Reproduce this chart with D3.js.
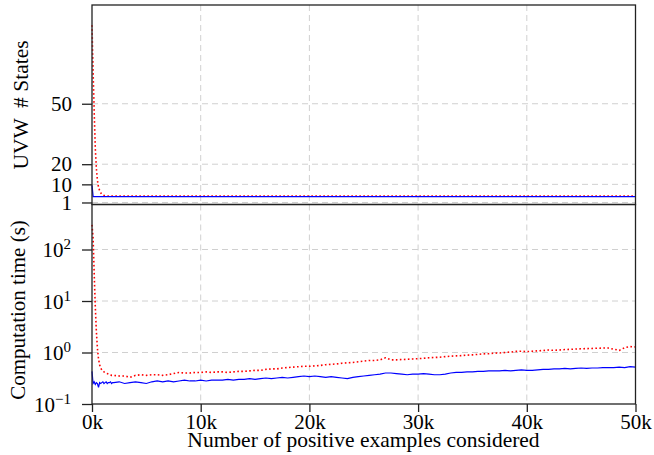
<!DOCTYPE html>
<html>
<head>
<meta charset="utf-8">
<script src="https://cdn.jsdelivr.net/npm/d3@7"></script>
<style>
body { margin: 0; background: #fff; }
text { font-family: "Liberation Serif", "Times New Roman", serif; fill: #000; }
</style>
</head>
<body>
<div id="chart"></div>
<script>

// sample points (number of positive examples) for the first 2k
var headX = [0,100,200,300,400,500,600,700,800,900,1000,1100,1200,1300,1400,1500,1600,1700,1800,1900];
// after 2k the curves are read every 500 examples
var tailX = d3.range(2000, 50001, 500);

// top panel: UVW # states (flat after 2k, so only the end point is kept)
var stateX = headX.concat([2000, 50000]);
var statesRed  = [89,66,46,28,18,12,8.5,7,5.8,5.1,4.7,4.5,4.4,4.3,4.25,4.2,4.2,4.2,4.2,4.2,4.2,4.2];
var statesBlue = [9.5,3.9,3.9,3.9,3.9,3.9,3.9,3.9,3.9,3.9,3.9,3.9,3.9,3.9,3.9,3.9,3.9,3.9,3.9,3.9,3.9,3.9];

// bottom panel: computation time (s)
var timeHeadRed  = [300,170,35,8,2.6,1.2,0.75,0.58,0.5,0.46,0.44,0.42,0.41,0.40,0.39,0.38,0.37,0.37,0.36,0.36];
var timeHeadBlue = [0.43,0.25,0.27,0.24,0.26,0.25,0.21,0.26,0.25,0.26,0.27,0.25,0.26,0.27,0.25,0.26,0.26,0.27,0.25,0.26];
var timeTailRed = [
  0.36,0.35,0.35,0.33,0.36,0.37,0.36,0.37,0.37,0.36,
  0.37,0.39,0.41,0.40,0.40,0.41,0.41,0.42,0.41,0.42,
  0.42,0.41,0.42,0.43,0.43,0.44,0.45,0.45,0.47,0.48,
  0.48,0.50,0.51,0.52,0.53,0.54,0.54,0.55,0.56,0.58,
  0.59,0.60,0.62,0.63,0.64,0.66,0.68,0.70,0.70,0.72,
  0.79,0.72,0.72,0.73,0.74,0.75,0.76,0.77,0.79,0.80,
  0.81,0.83,0.85,0.86,0.87,0.89,0.90,0.92,0.94,0.95,
  0.97,0.98,1.00,1.02,1.05,1.06,1.04,1.06,1.08,1.09,
  1.12,1.10,1.12,1.14,1.15,1.17,1.18,1.19,1.20,1.21,
  1.22,1.22,1.16,1.10,1.24,1.30,1.28];
var timeTailBlue = [
  0.26,0.27,0.25,0.26,0.27,0.26,0.25,0.27,0.28,0.27,
  0.28,0.27,0.28,0.29,0.28,0.28,0.29,0.28,0.29,0.29,
  0.29,0.30,0.29,0.30,0.30,0.31,0.30,0.31,0.32,0.31,
  0.32,0.33,0.32,0.33,0.34,0.35,0.34,0.35,0.34,0.33,
  0.34,0.33,0.32,0.31,0.33,0.34,0.35,0.36,0.37,0.38,
  0.40,0.40,0.39,0.38,0.37,0.38,0.38,0.39,0.38,0.37,
  0.37,0.38,0.40,0.41,0.41,0.42,0.42,0.43,0.43,0.44,
  0.44,0.44,0.45,0.44,0.45,0.46,0.45,0.45,0.46,0.47,
  0.47,0.48,0.48,0.49,0.48,0.49,0.50,0.49,0.50,0.50,
  0.51,0.51,0.51,0.52,0.51,0.53,0.52];

var xTicks = [0,10000,20000,30000,40000,50000];
var stateTicks = [1,10,20,50];
var timeTicks = [0.1,1,10,100];

// set the dimensions and margins of the graph
var margin = {top: 5, right: 18.5, bottom: 51, left: 92},
    width = 654 - margin.left - margin.right,
    height = 455 - margin.top - margin.bottom,
    panelH = height / 2;

var x = d3.scaleLinear().domain([0, 50000]).range([0, width]);
var yTop = d3.scaleLinear().domain([0, 99]).range([panelH, 0]);
var yBot = d3.scaleLog().domain([0.1, Math.pow(10, 2.874)]).range([height, panelH]);

var svg = d3.select("#chart").append("svg")
    .attr("width", 654)
    .attr("height", 455)
  .append("g")
    .attr("transform", "translate(" + margin.left + "," + margin.top + ")");

var gridColor = "#d0d0d0";

// grid lines
function vGrid(y0, y1) {
  svg.append("g").selectAll("line")
      .data(xTicks.slice(1, -1))
      .enter().append("line")
      .attr("x1", function(d) { return x(d); })
      .attr("x2", function(d) { return x(d); })
      .attr("y1", y0).attr("y2", y1)
      .style("stroke", gridColor).style("stroke-dasharray", "6,4");
}
function hGrid(vals, scale) {
  svg.append("g").selectAll("line")
      .data(vals)
      .enter().append("line")
      .attr("x1", 0).attr("x2", width)
      .attr("y1", function(d) { return scale(d); })
      .attr("y2", function(d) { return scale(d); })
      .style("stroke", gridColor).style("stroke-dasharray", "6,4");
}
vGrid(0, panelH);
vGrid(panelH, height);
hGrid(stateTicks, yTop);
hGrid(timeTicks.slice(1), yBot);

// lines
var stateLine = function(vals) {
  return d3.line()
    .x(function(d, i) { return x(stateX[i]); })
    .y(function(d) { return yTop(d); })(vals);
};
var timeX = headX.concat(tailX);
var timeLine = function(vals) {
  return d3.line()
    .x(function(d, i) { return x(timeX[i]); })
    .y(function(d) { return yBot(d); })(vals);
};

svg.append("path").attr("d", stateLine(statesRed))
    .style("fill", "none").style("stroke", "#ff0000")
    .style("stroke-width", 1.6).style("stroke-dasharray", "1.6,2.4");
svg.append("path").attr("d", stateLine(statesBlue))
    .style("fill", "none").style("stroke", "#0000ff").style("stroke-width", 1.3);

svg.append("path").attr("d", timeLine(timeHeadRed.concat(timeTailRed)))
    .style("fill", "none").style("stroke", "#ff0000")
    .style("stroke-width", 1.6).style("stroke-dasharray", "1.6,2.4");
svg.append("path").attr("d", timeLine(timeHeadBlue.concat(timeTailBlue)))
    .style("fill", "none").style("stroke", "#0000ff").style("stroke-width", 1.2);

// frames
svg.append("rect").attr("x", 0).attr("y", 0).attr("width", width).attr("height", panelH)
    .style("fill", "none").style("stroke", "#222").style("stroke-width", 1.3);
svg.append("rect").attr("x", 0).attr("y", panelH).attr("width", width).attr("height", height - panelH)
    .style("fill", "none").style("stroke", "#222").style("stroke-width", 1.3);

// axes
var axTop = svg.append("g")
    .call(d3.axisLeft(yTop).tickValues(stateTicks).tickSize(10).tickPadding(10));
var axBot = svg.append("g")
    .call(d3.axisLeft(yBot).tickValues(timeTicks).tickSize(10).tickPadding(11).tickFormat(""));
var axX = svg.append("g")
    .attr("transform", "translate(0," + height + ")")
    .call(d3.axisBottom(x).tickValues(xTicks).tickSize(8).tickPadding(2)
      .tickFormat(function(d) { return (d / 1000) + "k"; }));

[axTop, axBot, axX].forEach(function(g) {
  g.attr("font-family", "Liberation Serif, Times New Roman, serif");
  g.select(".domain").remove();
  g.selectAll(".tick line").style("stroke", "#222").style("stroke-width", 1.3);
  g.selectAll(".tick text").style("font-size", "21px");
});

// log tick labels as 10^n
axBot.selectAll(".tick text").each(function(d) {
  var e = Math.round(Math.log10(d));
  var t = d3.select(this).attr("dy", null).attr("y", 7);
  t.append("tspan").text("10");
  t.append("tspan").attr("dy", -8).style("font-size", "15px")
    .text(e < 0 ? "\u2212" + (-e) : String(e));
});

// labels
svg.append("text")
    .attr("transform", "rotate(-90)")
    .attr("x", -(105 - margin.top))
    .attr("y", 28 - margin.left)
    .style("text-anchor", "middle")
    .style("font-size", "21.5px")
    .text("UVW \u00a0# States");

svg.append("text")
    .attr("transform", "rotate(-90)")
    .attr("x", -(310 - margin.top))
    .attr("y", 24.5 - margin.left)
    .style("text-anchor", "middle")
    .style("font-size", "21px")
    .text("Computation time (s)");

svg.append("text")
    .attr("x", 363.5 - margin.left)
    .attr("y", 447 - margin.top)
    .style("text-anchor", "middle")
    .style("font-size", "21.5px")
    .text("Number of positive examples considered");

</script>
</body>
</html>
